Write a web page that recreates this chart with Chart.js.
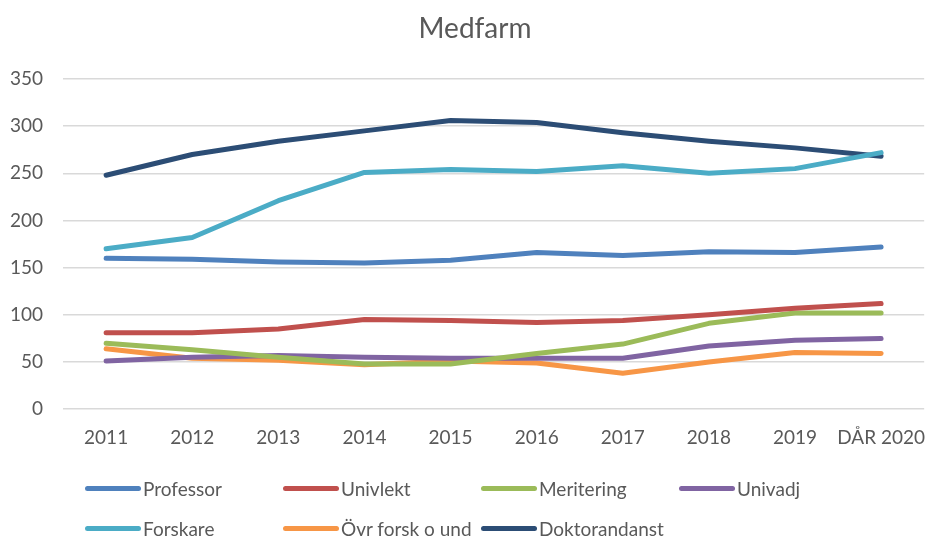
<!DOCTYPE html>
<html>
<head>
<meta charset="utf-8">
<script src="https://cdn.jsdelivr.net/npm/chart.js@4"></script>
<style>
  html, body { margin: 0; padding: 0; background: #fff; overflow: hidden; }
  #wrap { position: relative; width: 928px; height: 538px; overflow: hidden; }
  #title {
    position: absolute; left: 0; top: 10px; width: 950px; text-align: center;
    font-family: Lato, "Open Sans", sans-serif; font-size: 28px; color: #595959;
    line-height: 34px;
  }
  #legend {
    position: absolute; left: 85px; top: 474px;
    display: grid; grid-template-columns: 198px 198px 198px 198px;
    row-gap: 12px;
    font-family: Lato, "Open Sans", sans-serif; font-size: 19px; color: #595959;
  }
  .item { display: flex; align-items: center; height: 28px; white-space: nowrap; }
  .swatch { width: 56px; height: 5px; border-radius: 3px; margin-right: 2px; }
</style>
</head>
<body>
<div id="wrap">
  <!-- canvas a bit wider than the page: the last x label's overflow padding falls outside the frame -->
  <canvas id="chart" width="942" height="538"></canvas>
  <div id="title">Medfarm</div>
  <div id="legend"></div>
</div>
<script>
// Categories
const years = ['2011', '2012', '2013', '2014', '2015', '2016', '2017', '2018', '2019', 'DÅR 2020'];

// Series values
const professor     = [160, 159, 156, 155, 158, 166, 163, 167, 166, 172];
const univlekt      = [81, 81, 85, 95, 94, 92, 94, 100, 107, 112];
const meritering    = [70, 63, 55, 48, 48, 59, 69, 91, 102, 102];
const univadj       = [51, 55, 57, 55, 54, 54, 54, 67, 73, 75];
const forskare      = [170, 182, 221, 251, 254, 252, 258, 250, 255, 272];
const ovrForsk      = [64, 54, 52, 47, 51, 49, 38, 50, 60, 59];
const doktorandanst = [248, 270, 284, 295, 306, 304, 293, 284, 277, 268];

const seriesNames  = ['Professor', 'Univlekt', 'Meritering', 'Univadj', 'Forskare', 'Övr forsk o und', 'Doktorandanst'];
const seriesValues = [professor, univlekt, meritering, univadj, forskare, ovrForsk, doktorandanst];
const seriesColors = ['#4f81bd', '#c0504d', '#9bbb59', '#8064a2', '#4bacc6', '#f79646', '#2c4d75'];

const textColor = '#595959';
const fontFamily = 'Lato, "Open Sans", sans-serif';

const datasets = seriesNames.map((name, i) => ({
    label: name,
    data: seriesValues[i],
    borderColor: seriesColors[i],
    backgroundColor: seriesColors[i],
    borderWidth: 5,
    borderCapStyle: 'round',
    borderJoinStyle: 'round',
    pointRadius: 0,
    tension: 0,
    fill: false
}));

new Chart(document.getElementById('chart'), {
    type: 'line',
    data: { labels: years, datasets: datasets },
    options: {
        responsive: false,
        animation: false,
        // title is drawn as html above the canvas, so only reserve its space here
        layout: { padding: { left: -10, right: 0, top: 79, bottom: 72 } },
        plugins: {
            legend: { display: false },
            tooltip: { enabled: false },
            title: { display: false }
        },
        scales: {
            x: {
                offset: true,
                grid: { display: false, drawTicks: false },
                border: { display: false },
                ticks: { color: textColor, font: { family: fontFamily, size: 19 }, padding: 17, maxRotation: 0, autoSkip: false }
            },
            y: {
                min: 0,
                max: 350,
                grid: { color: '#d9d9d9', lineWidth: 1.5, drawTicks: false },
                border: { display: false },
                ticks: { stepSize: 50, color: textColor, font: { family: fontFamily, size: 19 }, padding: 20 }
            }
        }
    }
});

// HTML legend laid out in fixed columns, like the reference
const legend = document.getElementById('legend');
seriesNames.forEach((name, i) => {
    const item = document.createElement('div');
    item.className = 'item';
    const sw = document.createElement('span');
    sw.className = 'swatch';
    sw.style.background = seriesColors[i];
    const label = document.createElement('span');
    label.textContent = name;
    item.appendChild(sw);
    item.appendChild(label);
    legend.appendChild(item);
});
</script>
</body>
</html>
